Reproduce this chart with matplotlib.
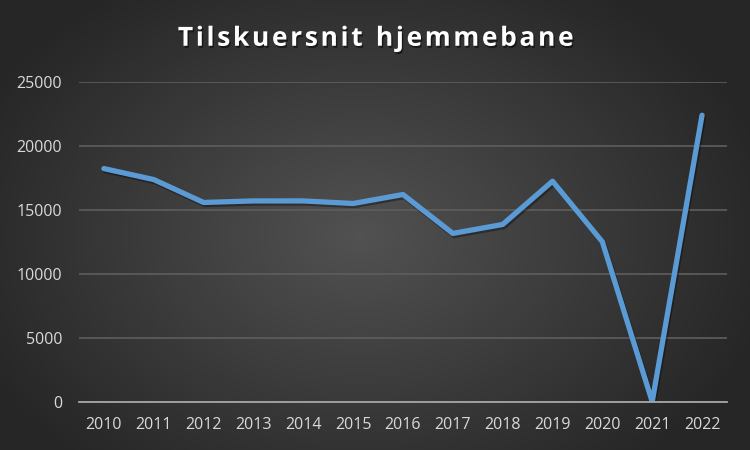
import numpy as np
import matplotlib
matplotlib.use("Agg")
import matplotlib.pyplot as plt
import matplotlib.patheffects as pe

# ====== data ======
years = ["2010", "2011", "2012", "2013", "2014", "2015", "2016",
         "2017", "2018", "2019", "2020", "2021", "2022"]
attendance = [18230, 17370, 15580, 15700, 15700, 15500, 16200,
              13160, 13860, 17240, 12500, 0, 22400]
yticks = [0, 5000, 10000, 15000, 20000, 25000]

fig = plt.figure(figsize=(7.5, 4.5), dpi=100)

# radial gradient background (Excel dark style)
bg = fig.add_axes([0, 0, 1, 1], zorder=0)
yy, xx = np.mgrid[0:450, 0:750]
r = np.sqrt(((xx - 360) / 420) ** 2 + ((yy - 235) / 300) ** 2)
r = np.clip(r, 0, 1)
shade = 0.32 - 0.17 * r
bg.imshow(np.dstack([shade, shade, shade]), aspect="auto", extent=[0, 1, 0, 1])
bg.axis("off")

ax = fig.add_axes([0.1053, 0.1073, 0.864, 0.7105], zorder=1)
ax.patch.set_alpha(0)
x = np.arange(len(years))
ax.plot(x, attendance, color="#5B9BD5", linewidth=3.8, solid_capstyle="round",
        solid_joinstyle="round",
        path_effects=[pe.SimpleLineShadow(offset=(1, -1.5), shadow_color="black", alpha=0.35),
                      pe.Normal()])

ax.set_xlim(-0.5, len(years) - 0.5)
ax.set_ylim(0, 25000)
ax.set_yticks(yticks)
ax.set_yticklabels([str(v) for v in yticks])
ax.set_xticks(x)
ax.set_xticklabels(years)
ax.grid(axis="y", color="#5E5E5E", linewidth=1.2)
ax.set_axisbelow(True)
for s in ["top", "right", "left"]:
    ax.spines[s].set_visible(False)
ax.spines["bottom"].set_color("#A6A6A6")
ax.spines["bottom"].set_linewidth(1.3)
ax.tick_params(length=0, colors="#D9D9D9", labelsize=11.5)
ax.tick_params(axis="x", pad=11)
ax.tick_params(axis="y", pad=12)
for lbl in ax.get_xticklabels() + ax.get_yticklabels():
    lbl.set_family(["Open Sans", "DejaVu Sans"])

fig.text(0.5, 0.915, "T i l s k u e r s n i t   h j e m m e b a n e".replace("   ", "\u2002").replace(" ", "\u200a"),
         ha="center", va="center", color="white", fontsize=19, fontweight="bold",
         family=["Open Sans", "DejaVu Sans"],
         path_effects=[pe.withSimplePatchShadow(offset=(1, -1.5), shadow_rgbFace="black", alpha=0.5)])

fig.savefig("out.png", dpi=100)
